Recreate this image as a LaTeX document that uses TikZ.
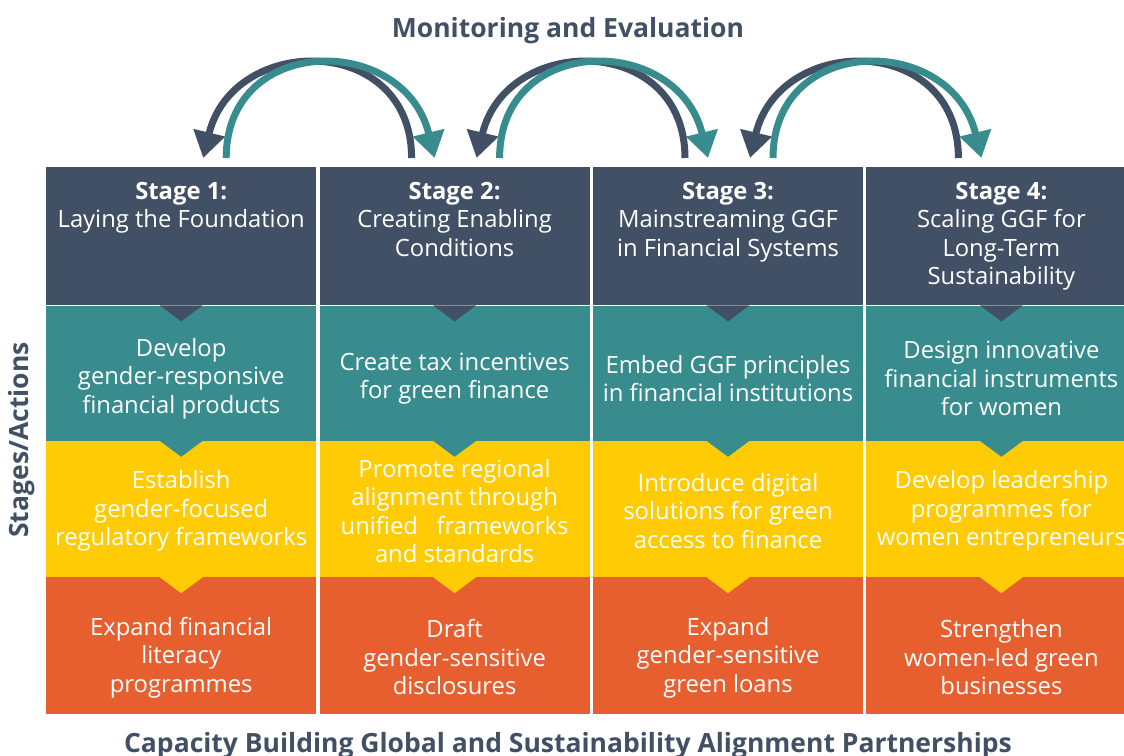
\documentclass[tikz,border=0pt]{standalone}
\usepackage{fontspec}
\setmainfont{Open Sans}
\usetikzlibrary{positioning,calc,arrows.meta}
\definecolor{slate}{HTML}{415064}
\definecolor{tealc}{HTML}{388C8E}
\definecolor{yell}{HTML}{FFCB05}
\definecolor{orng}{HTML}{E85F2F}

\tikzset{
  cell/.style={rectangle, inner sep=0pt, minimum width=270pt, minimum height=#1},
  txt/.style={inner sep=0pt, text=white, align=center, font=\fontsize{23.8}{28.5}\selectfont},
  heading/.style={inner sep=0pt, text=slate, font=\bfseries\fontsize{26.5}{30}\selectfont},
  loop/.style={line width=7pt, -{Triangle[width=31pt,length=26pt]}},
}

\begin{document}
\begin{tikzpicture}[x=1pt,y=1pt]
\useasboundingbox (0,0) rectangle (1124,755);

% stage row
\node[cell=138pt, fill=slate, anchor=north west] (S1) at (46,588) {};
\node[cell=138pt, fill=slate, right=3pt of S1] (S2) {};
\node[cell=138pt, fill=slate, right=3pt of S2] (S3) {};
\node[cell=138pt, fill=slate, right=3pt of S3] (S4) {};
% actions
\node[cell=135pt, fill=tealc, below=0pt of S1] (T1) {};
\node[cell=135pt, fill=tealc, below=0pt of S2] (T2) {};
\node[cell=135pt, fill=tealc, below=0pt of S3] (T3) {};
\node[cell=135pt, fill=tealc, below=0pt of S4] (T4) {};
\node[cell=136pt, fill=yell, below=0pt of T1] (Y1) {};
\node[cell=136pt, fill=yell, below=0pt of T2] (Y2) {};
\node[cell=136pt, fill=yell, below=0pt of T3] (Y3) {};
\node[cell=136pt, fill=yell, below=0pt of T4] (Y4) {};
\node[cell=137pt, fill=orng, below=0pt of Y1] (O1) {};
\node[cell=137pt, fill=orng, below=0pt of Y2] (O2) {};
\node[cell=137pt, fill=orng, below=0pt of Y3] (O3) {};
\node[cell=137pt, fill=orng, below=0pt of Y4] (O4) {};

% notches
\foreach \i in {1,...,4} {
  \fill[slate] ($(T\i.north)+(-21.5,0)$) -- ($(T\i.north)+(21.5,0)$) -- ($(T\i.north)+(0,-16)$) -- cycle;
  \fill[tealc] ($(Y\i.north)+(-21.5,0)$) -- ($(Y\i.north)+(21.5,0)$) -- ($(Y\i.north)+(0,-16)$) -- cycle;
  \fill[yell] ($(O\i.north)+(-21.5,0)$) -- ($(O\i.north)+(21.5,0)$) -- ($(O\i.north)+(0,-16)$) -- cycle;
}

\node[txt, anchor=north] (S1t) at ([yshift=-15pt]S1.north) {\textbf{Stage 1:}\\Laying the Foundation};
\node[txt, anchor=north] (S2t) at ([yshift=-15pt]S2.north) {\textbf{Stage 2:}\\Creating Enabling\\Conditions};
\node[txt, anchor=north] (S3t) at ([yshift=-15pt]S3.north) {\textbf{Stage 3:}\\Mainstreaming GGF\\in Financial Systems};
\node[txt, anchor=north] (S4t) at ([yshift=-15pt]S4.north) {\textbf{Stage 4:}\\Scaling GGF for\\Long-Term\\Sustainability};

\node[txt] (T1t) at ([yshift=-5.5pt]T1.center) {Develop\\gender-responsive\\financial products};
\node[txt] (T2t) at ([yshift=-5.5pt]T2.center) {Create tax incentives\\for green finance};
\node[txt] (T3t) at ([yshift=-5.5pt]T3.center) {Embed GGF principles\\in financial institutions};
\node[txt] (T4t) at ([yshift=-5.5pt]T4.center) {Design innovative\\financial instruments\\for women};

\node[txt] (Y1t) at ([yshift=-2pt]Y1.center) {Establish\\gender-focused\\regulatory frameworks};
\node[txt] (Y2t) at ([yshift=-2pt]Y2.center) {Promote regional\\alignment through\\unified\ \ \ frameworks\\and standards};
\node[txt] (Y3t) at ([yshift=-2pt]Y3.center) {Introduce digital\\solutions for green\\access to finance};
\node[txt] (Y4t) at ([yshift=-2pt]Y4.center) {Develop leadership\\programmes for\\women entrepreneurs};

\node[txt] (O1t) at ([yshift=-11.5pt]O1.center) {Expand financial\\literacy\\programmes};
\node[txt] (O2t) at ([yshift=-11.5pt]O2.center) {Draft\\gender-sensitive\\disclosures};
\node[txt] (O3t) at ([yshift=-11.5pt]O3.center) {Expand\\gender-sensitive\\green loans};
\node[txt] (O4t) at ([yshift=-11.5pt]O4.center) {Strengthen\\women-led green\\businesses};

% monitoring loops
\draw[loop, slate] ($(S2.north)+(-43,9)$) .. controls +(0,125) and +(30,125) .. ($(S1.north)+(22,9)$);
\draw[loop, tealc] ($(S1.north)+(45,9)$) .. controls +(0,125) and +(-30,125) .. ($(S2.north)+(-20,9)$);
\draw[loop, slate] ($(S3.north)+(-43,9)$) .. controls +(0,125) and +(30,125) .. ($(S2.north)+(22,9)$);
\draw[loop, tealc] ($(S2.north)+(45,9)$) .. controls +(0,125) and +(-30,125) .. ($(S3.north)+(-20,9)$);
\draw[loop, slate] ($(S4.north)+(-43,9)$) .. controls +(0,125) and +(30,125) .. ($(S3.north)+(22,9)$);
\draw[loop, tealc] ($(S3.north)+(45,9)$) .. controls +(0,125) and +(-30,125) .. ($(S4.north)+(-20,9)$);

\node[heading, anchor=base] (mon) at (568,717) {Monitoring and Evaluation};
\node[heading, anchor=base] (cap) at (568,3) {Capacity Building Global and Sustainability Alignment Partnerships};
\node[heading, rotate=90] (axis) at (22,315) {Stages/Actions};
\end{tikzpicture}
\end{document}
